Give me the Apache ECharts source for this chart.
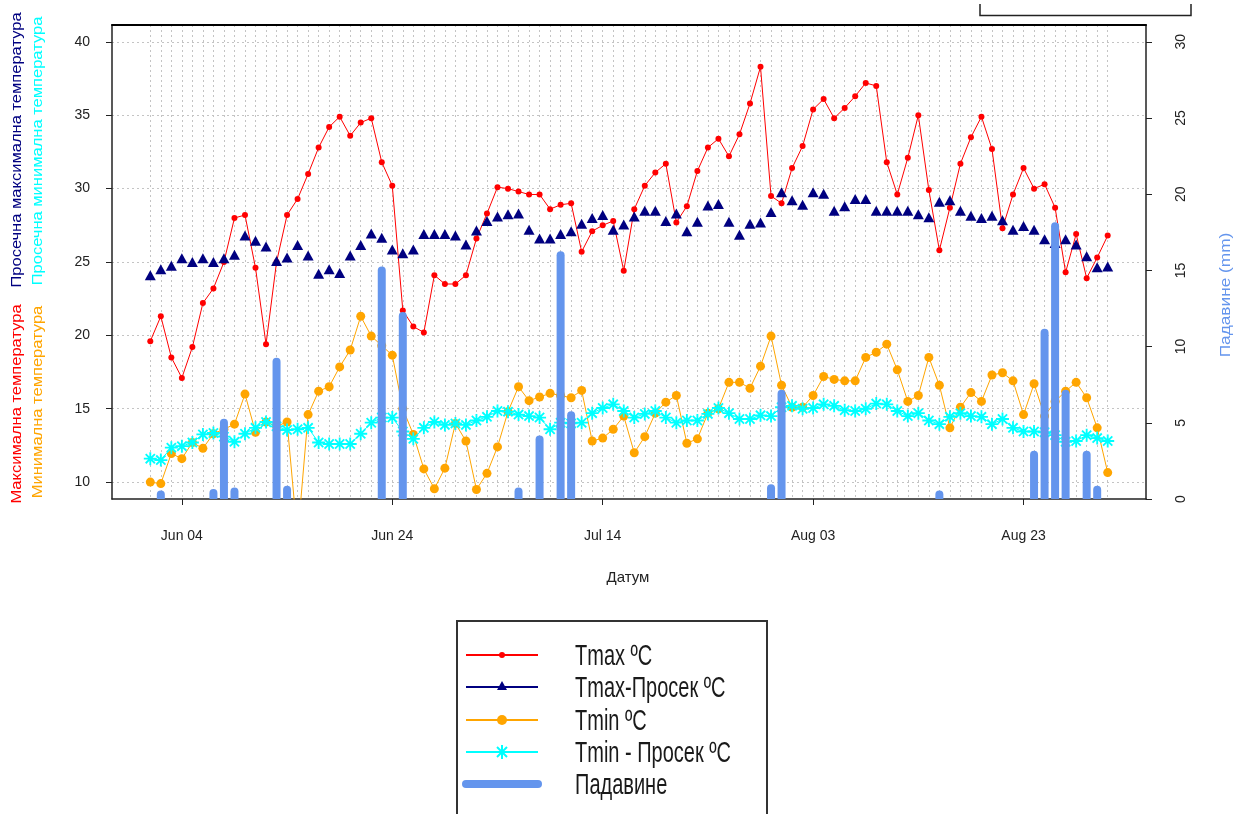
<!DOCTYPE html>
<html><head><meta charset="utf-8">
<script src="https://cdn.jsdelivr.net/npm/echarts@6/dist/echarts.min.js"></script>
<style>html,body{margin:0;padding:0;background:#fff;}#c{width:1234px;height:814px;}</style>
</head><body><div id="c"></div>
<script>
// ---- data ----
const dates = [
 '06-01','06-02','06-03','06-04','06-05','06-06','06-07','06-08','06-09','06-10',
 '06-11','06-12','06-13','06-14','06-15','06-16','06-17','06-18','06-19','06-20',
 '06-21','06-22','06-23','06-24','06-25','06-26','06-27','06-28','06-29','06-30',
 '07-01','07-02','07-03','07-04','07-05','07-06','07-07','07-08','07-09','07-10',
 '07-11','07-12','07-13','07-14','07-15','07-16','07-17','07-18','07-19','07-20',
 '07-21','07-22','07-23','07-24','07-25','07-26','07-27','07-28','07-29','07-30',
 '07-31','08-01','08-02','08-03','08-04','08-05','08-06','08-07','08-08','08-09',
 '08-10','08-11','08-12','08-13','08-14','08-15','08-16','08-17','08-18','08-19',
 '08-20','08-21','08-22','08-23','08-24','08-25','08-26','08-27','08-28','08-29',
 '08-30','08-31'];
const tickDates = ['06-04','06-24','07-14','08-03','08-23'];
const tickLabels = ['Jun 04','Jun 24','Jul 14','Aug 03','Aug 23'];
const tempTicks = [10,15,20,25,30,35,40];
const rainTicks = [0,5,10,15,20,25,30];

const tmax = [
 19.6,21.3,18.5,17.1,19.2,22.2,23.2,25.0,28.0,28.2,
 24.6,19.4,25.0,28.2,29.3,31.0,32.8,34.2,34.9,33.6,
 34.5,34.8,31.8,30.2,21.7,20.6,20.2,24.1,23.5,23.5,
 24.1,26.6,28.3,30.1,30.0,29.8,29.6,29.6,28.6,28.9,
 29.0,25.7,27.1,27.5,27.8,24.4,28.6,30.2,31.1,31.7,
 27.7,28.8,31.2,32.8,33.4,32.2,33.7,35.8,38.3,29.5,
 29.0,31.4,32.9,35.4,36.1,34.8,35.5,36.3,37.2,37.0,
 31.8,29.6,32.1,35.0,29.9,25.8,28.7,31.7,33.5,34.9,
 32.7,27.3,29.6,31.4,30.0,30.3,28.7,24.3,26.9,23.9,
 25.3,26.8];
const tmaxAvg = [
 24.1,24.5,24.75,25.25,25.0,25.25,25.0,25.25,25.5,26.8,
 26.45,26.05,25.07,25.3,26.15,25.45,24.2,24.5,24.25,25.45,
 26.15,26.95,26.65,25.85,25.6,25.85,26.9,26.9,26.9,26.8,
 26.2,27.15,27.8,28.1,28.25,28.3,27.2,26.6,26.6,26.9,
 27.1,27.6,28.0,28.2,27.2,27.55,28.1,28.5,28.5,27.8,
 28.3,27.1,27.75,28.85,28.95,27.75,26.85,27.6,27.7,28.4,
 29.75,29.2,28.9,29.75,29.65,28.5,28.8,29.3,29.3,28.5,
 28.5,28.5,28.5,28.25,28.05,29.1,29.2,28.5,28.15,28.0,
 28.15,27.85,27.2,27.45,27.2,26.55,26.3,26.55,26.2,25.4,
 24.65,24.7];
const tmin = [
 10.0,9.9,11.95,11.6,12.7,12.3,13.3,13.6,13.95,16.0,
 13.4,14.1,13.8,14.1,6.2,14.6,16.2,16.5,17.85,19.0,
 21.3,19.95,19.3,18.65,15.0,13.25,10.9,9.55,10.95,14.0,
 12.8,9.5,10.6,12.4,14.8,16.5,15.55,15.8,16.05,15.9,
 15.75,16.25,12.8,13.0,13.6,14.5,12.0,13.1,14.7,15.45,
 15.9,12.65,12.95,14.7,15.0,16.8,16.8,16.4,17.9,19.95,
 16.6,15.1,15.1,15.9,17.2,17.0,16.9,16.9,18.5,18.85,
 19.4,17.65,15.5,15.9,18.5,16.6,13.7,15.1,16.1,15.5,
 17.3,17.45,16.9,14.6,16.7,14.5,15.5,16.2,16.8,15.75,
 13.7,10.65];
const tminAvg = [
 11.6,11.5,12.35,12.45,12.7,13.25,13.35,13.1,12.75,13.3,
 13.7,14.1,13.8,13.55,13.6,13.7,12.7,12.6,12.6,12.6,
 13.3,14.05,14.4,14.4,13.45,12.95,13.7,14.1,13.9,14.0,
 13.9,14.2,14.45,14.85,14.8,14.6,14.5,14.4,13.6,14.05,
 14.0,14.05,14.7,15.05,15.3,14.85,14.4,14.65,14.85,14.4,
 14.05,14.2,14.2,14.65,15.05,14.7,14.3,14.3,14.55,14.5,
 15.1,15.2,15.0,15.05,15.3,15.2,14.9,14.85,15.0,15.35,
 15.3,14.85,14.5,14.7,14.2,13.95,14.45,14.7,14.5,14.45,
 13.95,14.3,13.7,13.45,13.45,13.4,13.2,12.75,12.8,13.2,
 13.0,12.8];
const rain = [
 0,0.3,0,0,0,0,0.4,5.0,0.5,0,
 0,0,9.0,0.6,0,0,0,0,0,0,
 0,0,15.0,0,12.0,0,0,0,0,0,
 0,0,0,0,0,0.5,0,3.9,0,16.0,
 5.5,0,0,0,0,0,0,0,0,0,
 0,0,0,0,0,0,0,0,0,0.7,
 6.9,0,0,0,0,0,0,0,0,0,
 0,0,0,0,0,0.3,0,0,0,0,
 0,0,0,0,2.9,10.9,17.9,6.9,0,2.9,
 0.6,0];

const seriesNames = ['Tmax ºC','Tmax-Просек ºC','Tmin ºC','Tmin - Просек ºC','Падавине'];
const seriesColors = ['#ff0000','#000080','#ffa500','#00ffff','#6495ed'];

// ---- build ----
const FONT = '"Liberation Sans", Arial, Helvetica, sans-serif';
const dayIdx = dates.map((d, i) => i);
const tickIdx = tickDates.map(d => dates.indexOf(d));
const pad = (dates.length - 1) * 0.04;
const xMin = -pad, xMax = dates.length - 1 + pad;
const pts = arr => arr.map((v, i) => [i, v]);
const STAR = 'path://M-1,-7L1,-7L1,7L-1,7ZM-7,-1L7,-1L7,1L-7,1ZM-4.24,-5.66L5.66,4.24L4.24,5.66L-5.66,-4.24ZM-5.66,4.24L4.24,-5.66L5.66,-4.24L-4.24,5.66Z';
const gridStyle = {color: '#c4c4c4', width: 1, type: [2, 3]};
const frame = {show: true, onZero: false, lineStyle: {color: '#222', width: 1.5}};

const chart = echarts.init(document.getElementById('c'), null, {renderer: 'canvas'});

function txt(x, y, text, color, size, rot, sx, sy, align) {
  const a = align || 'center';
  return {type: 'text', x: x, y: y, rotation: rot || 0, scaleX: sx || 1, scaleY: sy || 1, silent: true,
    style: {text: text, fill: color, fontSize: size, fontFamily: FONT,
      align: a, verticalAlign: 'middle', textAlign: a, textVerticalAlign: 'middle'}};
}
const graphics = [];
// cut-off box at top right
graphics.push({type: 'polyline', silent: true, shape: {points: [[980, 4], [980, 15.5], [1191, 15.5], [1191, 4]]},
  style: {stroke: '#222', lineWidth: 1.5, fill: null}});
// left titles
graphics.push(txt(17, 150, 'Просечна максимална температура', '#000080', 15, Math.PI / 2, 1.1, 1));
graphics.push(txt(38, 151, 'Просечна минимална температура', '#00ffff', 15, Math.PI / 2, 1.1, 1));
graphics.push(txt(17, 404, 'Максимална температура', '#ff0000', 15, Math.PI / 2, 1.1, 1));
graphics.push(txt(38, 402, 'Минимална температура', '#ffa500', 15, Math.PI / 2, 1.1, 1));
// right title
graphics.push(txt(1226, 295, 'Падавине (mm)', '#6495ed', 15, Math.PI / 2, 1.15, 1));
// x title
graphics.push(txt(628, 578, 'Датум', '#222', 15, 0, 1, 1));
// legend box
graphics.push({type: 'rect', silent: true, shape: {x: 457, y: 621, width: 310, height: 240},
  style: {stroke: '#333', lineWidth: 2, fill: null}});
const rowY = [655, 687, 720, 752, 784];
const lx1 = 466, lx2 = 538, lmid = 502;
for (let i = 0; i < 5; i++) {
  const y = rowY[i];
  graphics.push({type: 'line', silent: true, shape: {x1: lx1, y1: y, x2: lx2, y2: y},
    style: {stroke: seriesColors[i], lineWidth: i === 4 ? 8 : 2, lineCap: i === 4 ? 'round' : 'butt'}});
  graphics.push(txt(575, y + 2, seriesNames[i], '#1a1a1a', 20, 0, 1, 1.45, 'left'));
}
graphics.push({type: 'circle', silent: true, shape: {cx: lmid, cy: rowY[0], r: 3}, style: {fill: '#ff0000'}});
graphics.push({type: 'polygon', silent: true, shape: {points: [[lmid, rowY[1] - 6], [lmid + 5, rowY[1] + 3], [lmid - 5, rowY[1] + 3]]}, style: {fill: '#000080'}});
graphics.push({type: 'circle', silent: true, shape: {cx: lmid, cy: rowY[2], r: 5}, style: {fill: '#ffa500'}});
[[0, -7, 0, 7], [-7, 0, 7, 0], [-5, -5, 5, 5], [-5, 5, 5, -5]].forEach(s => {
  graphics.push({type: 'line', silent: true, shape: {x1: lmid + s[0], y1: rowY[3] + s[1], x2: lmid + s[2], y2: rowY[3] + s[3]},
    style: {stroke: '#00ffff', lineWidth: 2}});
});

const option = {
  animation: false,
  backgroundColor: '#ffffff',
  grid: {left: 112, top: 25, width: 1034, height: 474, containLabel: false, outerBoundsMode: 'none'},
  xAxis: [
    {type: 'value', position: 'bottom', min: xMin, max: xMax,
     axisLine: frame,
     axisTick: {show: true, customValues: tickIdx, length: 6, inside: false, lineStyle: {color: '#222', width: 1}},
     axisLabel: {show: true, customValues: tickIdx, margin: 30, color: '#222', fontSize: 14, fontFamily: FONT,
       formatter: v => tickLabels[tickIdx.indexOf(Math.round(v))] || ''},
     splitLine: {show: false}},
    {type: 'value', position: 'top', min: xMin, max: xMax,
     axisLine: {show: true, onZero: false, lineStyle: {color: '#000', width: 2}},
     axisTick: {show: false, customValues: dayIdx},
     axisLabel: {show: false},
     splitLine: {show: true, lineStyle: gridStyle}}
  ],
  yAxis: [
    {type: 'value', position: 'left', min: 8.85, max: 41.15,
     axisLine: frame,
     axisTick: {show: true, customValues: tempTicks, length: 6, lineStyle: {color: '#222'}},
     axisLabel: {customValues: tempTicks, margin: 22, color: '#222', fontSize: 14, fontFamily: FONT},
     splitLine: {show: true, lineStyle: gridStyle}},
    {type: 'value', position: 'right', min: 0, max: 31.1,
     axisLine: frame,
     axisTick: {show: true, customValues: rainTicks, length: 6, lineStyle: {color: '#222'}},
     axisLabel: {customValues: rainTicks, margin: 28, rotate: 90, color: '#222', fontSize: 14, fontFamily: FONT},
     splitLine: {show: false}}
  ],
  series: [
    {name: seriesNames[0], type: 'line', xAxisIndex: 0, yAxisIndex: 0, data: pts(tmax),
     symbol: 'circle', symbolSize: 6, itemStyle: {color: seriesColors[0]},
     lineStyle: {color: seriesColors[0], width: 1}, z: 2},
    {name: seriesNames[1], type: 'scatter', xAxisIndex: 0, yAxisIndex: 0, data: pts(tmaxAvg),
     symbol: 'triangle', symbolSize: [11, 10], itemStyle: {color: seriesColors[1], opacity: 1}, z: 3},
    {name: seriesNames[2], type: 'line', xAxisIndex: 0, yAxisIndex: 0, data: pts(tmin),
     symbol: 'circle', symbolSize: 9, itemStyle: {color: seriesColors[2]},
     lineStyle: {color: seriesColors[2], width: 1}, z: 4},
    {name: seriesNames[3], type: 'line', xAxisIndex: 0, yAxisIndex: 0, data: pts(tminAvg),
     symbol: STAR, symbolSize: 13, itemStyle: {color: seriesColors[3]},
     lineStyle: {color: seriesColors[3], width: 1}, z: 5},
    {name: seriesNames[4], type: 'custom', xAxisIndex: 0, yAxisIndex: 1, data: pts(rain), z: 6,
     encode: {x: 0, y: 1},
     renderItem: function (params, api) {
       const v = api.value(1);
       if (!(v > 0)) return null;
       const top = api.coord([api.value(0), v]);
       const base = api.coord([api.value(0), 0]);
       const w = 8, r = 4;
       return {type: 'rect', shape: {x: top[0] - w / 2, y: top[1] - r, width: w, height: base[1] - top[1] + r, r: [r, r, 0, 0]},
         style: {fill: seriesColors[4]}};
     }}
  ],
  graphic: {elements: graphics}
};
chart.setOption(option);
</script></body></html>
